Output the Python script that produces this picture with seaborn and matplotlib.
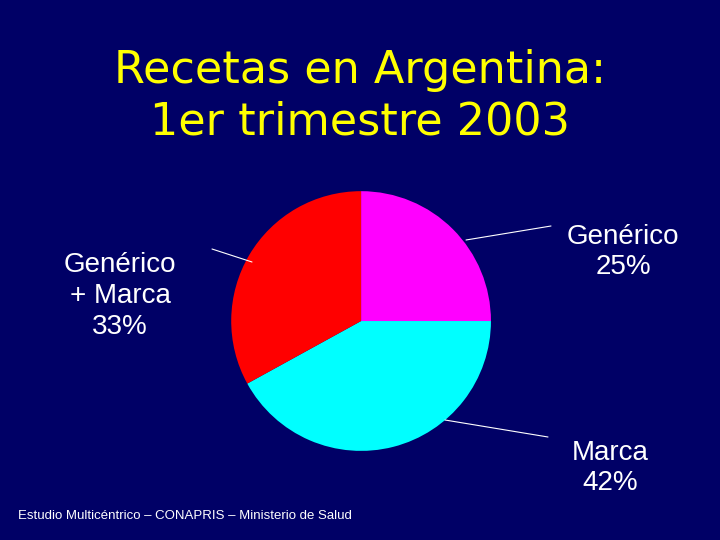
import matplotlib
matplotlib.use("Agg")
import matplotlib.pyplot as plt
import seaborn as sns

sns.set_theme(style="white")
plt.rcParams['font.family'] = ['Liberation Sans', 'DejaVu Sans']

# data
categories = ['Genérico', 'Marca', 'Genérico + Marca']
shares = [25, 42, 33]
colors = ['#FF00FF', '#00FFFF', '#FF0000']
bg = '#000066'

fig = plt.figure(figsize=(7.2, 5.4), dpi=100, facecolor=bg)
ax = fig.add_axes([0.321, 0.165, 0.361, 0.481])
ax.set_facecolor(bg)
ax.pie(shares, colors=colors, startangle=90, counterclock=False,
       wedgeprops=dict(linewidth=0))
ax.set_xlim(-1, 1)
ax.set_ylim(-1, 1)
ax.set_aspect('equal')

# title
fig.text(0.5, 1-70/540, 'Recetas en Argentina:', ha='center', va='center',
         fontsize=32, color='#FFFF00', family='DejaVu Sans')
fig.text(0.5, 1-122/540, '1er trimestre 2003', ha='center', va='center',
         fontsize=32, color='#FFFF00', family='DejaVu Sans')

# labels
lab_kw = dict(ha='center', va='center', fontsize=20, color='white', linespacing=1.25)
fig.text(623/720, 1-252/540, 'Genérico\n25%', **lab_kw)
fig.text(610/720, 1-468/540, 'Marca\n42%', **lab_kw)
fig.text(120/720, 1-296/540, 'Genérico\n+ Marca\n33%', **lab_kw)

# leader lines
for (x0, y0), (x1, y1) in [((466, 240), (551, 226)),
                           ((445, 420), (548, 437)),
                           ((212, 249), (252, 262))]:
    fig.add_artist(plt.Line2D([x0/720, x1/720], [1-y0/540, 1-y1/540],
                              color='white', lw=0.8))

fig.text(18/720, 1-516/540,
         'Estudio Multicéntrico – CONAPRIS – Ministerio de Salud',
         ha='left', va='center', fontsize=9.5, color='white')

fig.savefig('out.png', dpi=100, facecolor=bg)
